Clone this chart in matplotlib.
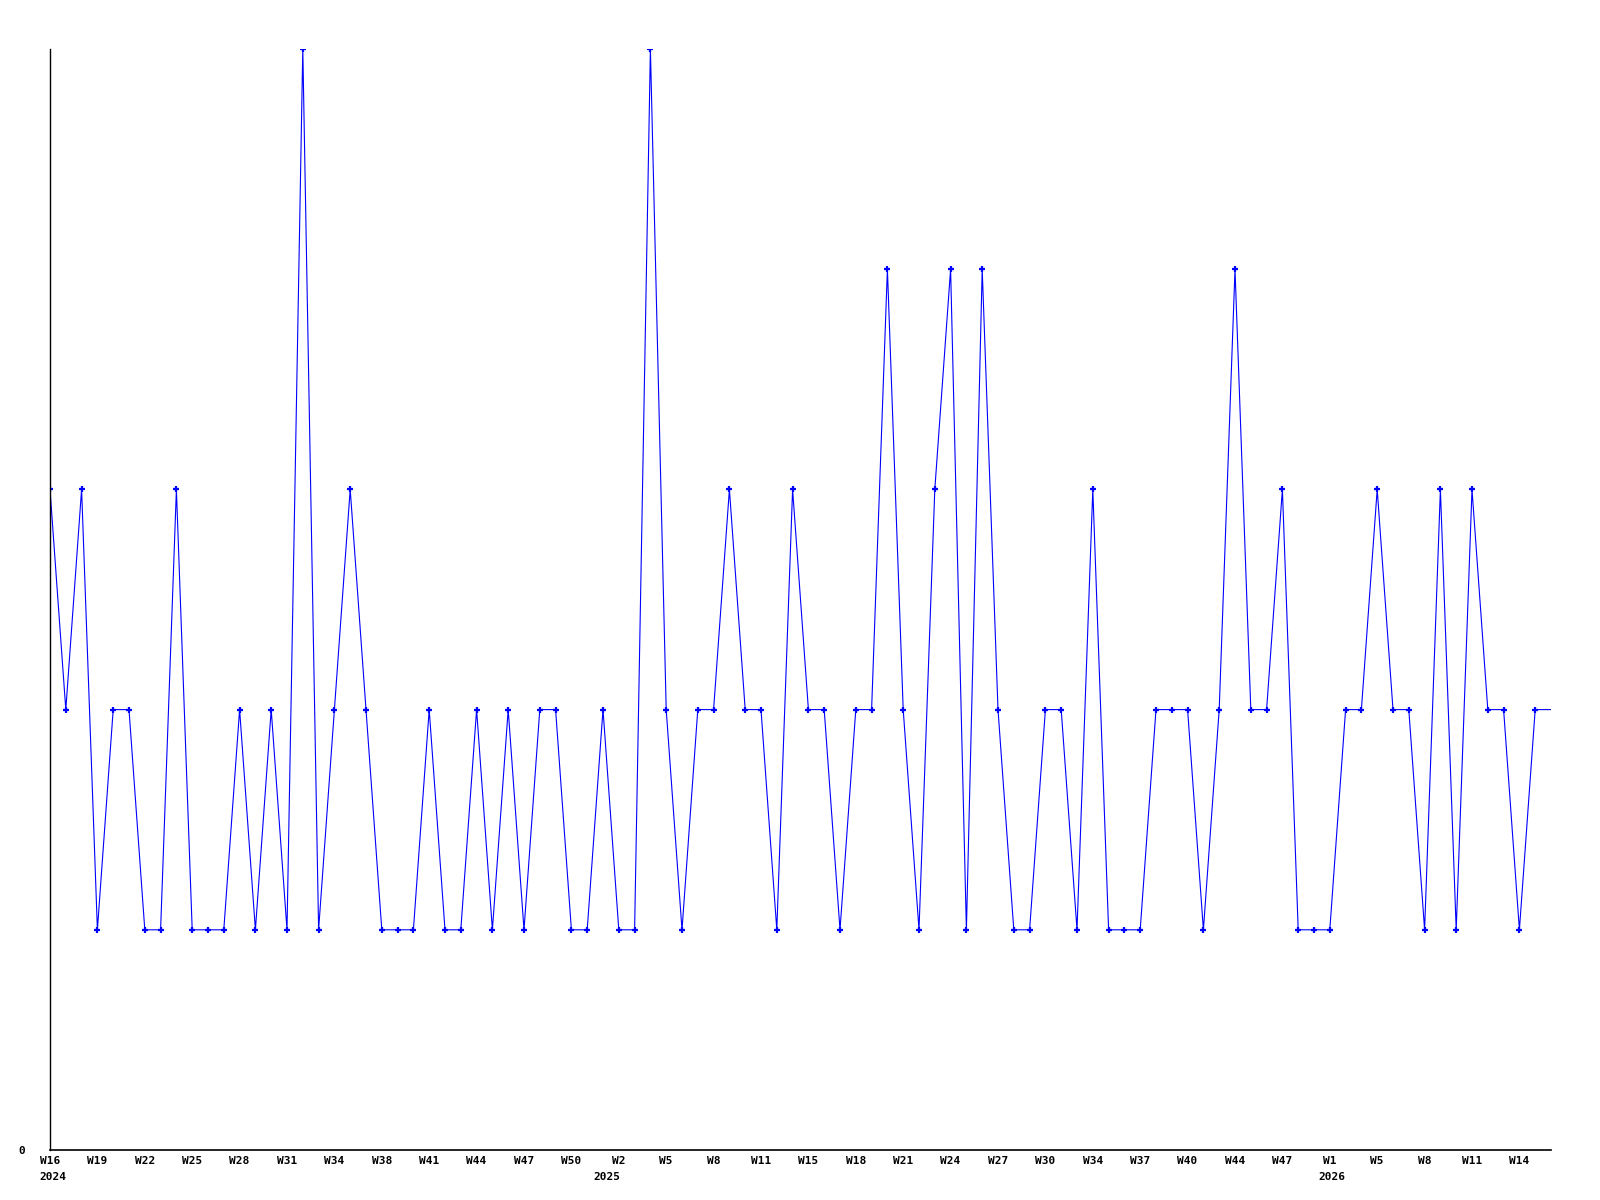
import matplotlib
matplotlib.use('Agg')
import matplotlib.pyplot as plt
import matplotlib.transforms as mtransforms

# weekly counts, W16 2024 onward (last value only extends the line)
values = [
    3, 2, 3, 1, 2, 2, 1, 1, 3, 1, 1, 1, 2, 1, 2, 1, 5, 1, 2, 3,
    2, 1, 1, 1, 2, 1, 1, 2, 1, 2, 1, 2, 2, 1, 1, 2, 1, 1, 5, 2,
    1, 2, 2, 3, 2, 2, 1, 3, 2, 2, 1, 2, 2, 4, 2, 1, 3, 4, 1, 4,
    2, 1, 1, 2, 2, 1, 3, 1, 1, 1, 2, 2, 2, 1, 2, 4, 2, 2, 3, 1,
    1, 1, 2, 2, 3, 2, 2, 1, 3, 1, 3, 2, 2, 1, 2, 2,
]
week_labels = [
    'W16', 'W19', 'W22', 'W25', 'W28', 'W31', 'W34', 'W38', 'W41', 'W44',
    'W47', 'W50', 'W2', 'W5', 'W8', 'W11', 'W15', 'W18', 'W21', 'W24',
    'W27', 'W30', 'W34', 'W37', 'W40', 'W44', 'W47', 'W1', 'W5', 'W8',
    'W11', 'W14',
]
years = ['2024', '2025', '2026']
year_pos = [-0.7, 34.4, 80.3]

x = list(range(len(values)))
n_marked = len(values) - 1

fig = plt.figure(figsize=(16, 12), dpi=100)
ax = fig.add_axes([50 / 1600, 1 - 1150 / 1200, 1501 / 1600, 1101 / 1200])

ax.plot(x, values, color='#0000ff', lw=0.8, marker='+', ms=5, mew=1.6,
        markevery=list(range(n_marked)))

ax.set_xlim(0, len(values) - 1)
ax.set_ylim(0, 5)
ax.spines['top'].set_visible(False)
ax.spines['right'].set_visible(False)
ax.spines['left'].set_linewidth(1.0)
ax.spines['bottom'].set_linewidth(1.2)

font = dict(family='DejaVu Sans Mono', weight='bold', size=8)
ax.set_xticks(list(range(0, 3 * len(week_labels), 3)))
ax.set_xticklabels(week_labels, **font)
ax.set_yticks([0])
ax.set_yticklabels(['0'], **font)
ax.tick_params(axis='x', length=0, pad=4)
ax.tick_params(axis='y', length=0, pad=18)

trans = mtransforms.blended_transform_factory(ax.transData, ax.transAxes)
for yr, xp in zip(years, year_pos):
    ax.text(xp, -0.0245, yr, transform=trans, ha='left', va='center', **font)

fig.savefig('out.png', dpi=100)
